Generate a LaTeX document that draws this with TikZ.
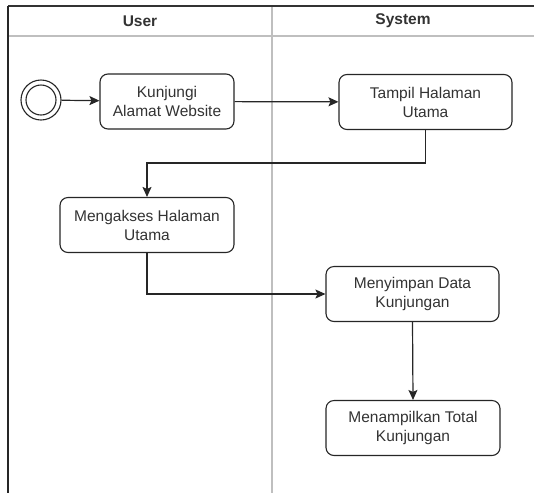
\documentclass[tikz,border=0pt]{standalone}
\usepackage{fontspec}
\setmainfont{Liberation Sans}
\usetikzlibrary{positioning,calc}
\usetikzlibrary{arrows.meta}

\tikzset{
   act/.style={draw=black!85, line width=1.1pt, rounded corners=8pt, fill=white,
      align=center, minimum height=55pt, inner sep=2pt,
      font=\fontsize{15.5}{19}\selectfont, text=black!80},
   flow/.style={line width=1.2pt, draw=black!85,
      -{Stealth[length=10pt,width=9pt,inset=2pt]}},
   lane/.style={line width=1.6pt, draw=black!25},
   head/.style={font=\fontsize{15.5}{19}\selectfont\bfseries, text=black!80},
}

\begin{document}
\begin{tikzpicture}[x=1pt,y=-1pt]
   \useasboundingbox (0,0) rectangle (534,493);

   % swimlanes
   \coordinate (tl) at (8,6);
   \coordinate (tr) at (534,6);
   \coordinate (hl) at (8,36);
   \coordinate (hr) at (534,36);
   \coordinate (ml) at (272,6);
   \coordinate (mb) at (272,493);
   \coordinate (lb) at (8,493);
   \draw[lane] (hl) -- (hr);
   \draw[lane] (ml) -- (mb);
   \draw[line width=1.6pt, black!80] (tl) -- (tr);
   \draw[line width=1.6pt, black!85] (tl) -- (lb);
   \node[head] (user) at (140,21) {User};
   \node[head] (sys) at (403,21) {System};

   % start
   \node[circle, draw=black!85, line width=1.1pt, minimum size=40pt, inner sep=0pt] (s0) at (41,100) {};
   \node[circle, draw=black!85, line width=1.1pt, minimum size=30pt, inner sep=0pt] at (s0) {};

   % activities
   \node[act, minimum width=134pt] (u1) at (167,101.5) {Kunjungi\\Alamat Website};
   \node[act, minimum width=173pt] (s1) at (425.5,102) {Tampil Halaman\\Utama};
   \node[act, minimum width=174pt] (u2) at (147,225) {Mengakses Halaman\\Utama};
   \node[act, minimum width=173pt] (s2) at (412.5,294) {Menyimpan Data\\Kunjungan};
   \node[act, minimum width=174pt] (s3) at (413,428) {Menampilkan Total\\Kunjungan};

   % flows
   \draw[flow] (s0) -- (u1);
   \draw[flow] (u1) -- (s1);
   \draw[flow] (s1.south) -- ++(0,33) -| (u2.north);
   \draw[flow] (u2.south) |- (s2.west);
   \draw[flow] (s2.south) -- (s3.north);
\end{tikzpicture}
\end{document}
